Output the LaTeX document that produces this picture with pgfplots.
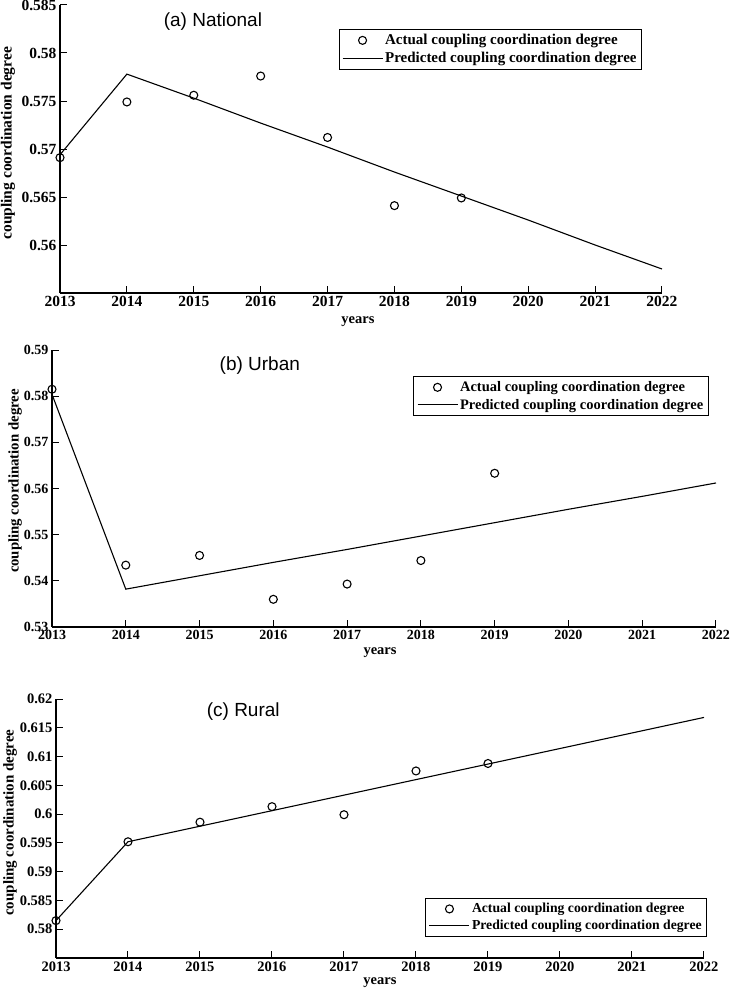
\documentclass[border=0pt]{standalone}
\usepackage{fontspec}
\setmainfont{Liberation Serif}
\newfontfamily\arial{Liberation Sans}
\usepackage{pgfplots}
\pgfplotsset{compat=1.18}

\pgfplotsset{
  ccd/.style={
    scale only axis,
    anchor=south west,
    axis x line*=bottom,
    axis y line*=left,
    axis line style={line width=1.5pt,-},
    tick style={line width=1pt,black},
    major tick length=7pt,
    tick align=inside,
    xmin=2013, xmax=2022,
    xtick={2013,...,2022},
    /pgf/number format/1000 sep={},
    /pgf/number format/assume math mode=true,
    xlabel={years},
    ylabel={coupling coordination degree},
    clip=false,
    legend cell align=left,
    legend image code/.code={\draw[mark repeat=2,mark phase=2,#1] plot coordinates {(0pt,0pt) (20pt,0pt) (40pt,0pt)};},
    legend style={draw=black, line width=1pt, anchor=north east, inner xsep=3pt, inner ysep=3pt, row sep=2pt},
  },
  actual/.style={only marks, mark=o, mark size=4pt, black, line width=1.1pt},
  pred/.style={no marks, black, line width=1.1pt},
}

\begin{document}
\begin{tikzpicture}
\path[use as bounding box] (0pt,0pt) rectangle (730pt,-992pt);

% (a) National
\begin{axis}[ccd,
  at={(60pt,-293pt)}, width=602pt, height=288pt,
  ymin=0.555, ymax=0.585,
  ytick={0.56,0.565,0.57,0.575,0.58,0.585},
  yticklabels={0.56,0.565,0.57,0.575,0.58,0.585},
  ticklabel style={font=\bfseries\fontsize{15.5}{15.5}\selectfont},
  ylabel style={font=\bfseries\fontsize{15.5}{15.5}\selectfont, at={(axis description cs:-0.0864,0.52)}, anchor=center},
  xlabel style={font=\bfseries\fontsize{14.5}{14.5}\selectfont, at={(axis description cs:0.495,-0.1)}, anchor=center},
  title={(a) National},
  title style={font=\arial\fontsize{19}{19}\selectfont, at={(axis description cs:0.254,0.92)}, anchor=center},
  legend style={at={(axis description cs:0.967,0.917)}, font=\bfseries\fontsize{15}{16}\selectfont},
]
\addplot[actual] coordinates {(2013,0.5691) (2014,0.5749) (2015,0.5756) (2016,0.5776) (2017,0.5712) (2018,0.5641) (2019,0.5649)};
\addplot[pred] coordinates {(2013,0.5694) (2014,0.5778) (2015,0.5753) (2016,0.5727) (2017,0.5702) (2018,0.5676) (2019,0.5651) (2020,0.5626) (2021,0.5600) (2022,0.5575)};
\legend{Actual coupling coordination degree, Predicted coupling coordination degree}
\end{axis}

% (b) Urban
\begin{axis}[ccd,
  at={(52pt,-627pt)}, width=664pt, height=277pt,
  ymin=0.53, ymax=0.59,
  ytick={0.53,0.54,0.55,0.56,0.57,0.58,0.59},
  yticklabels={0.53,0.54,0.55,0.56,0.57,0.58,0.59},
  ticklabel style={font=\bfseries\fontsize{14}{14}\selectfont},
  ylabel style={font=\bfseries\fontsize{14.8}{14.8}\selectfont, at={(axis description cs:-0.0557,0.527)}, anchor=center},
  xlabel style={font=\bfseries\fontsize{14.5}{14.5}\selectfont, at={(axis description cs:0.494,-0.094)}, anchor=center},
  title={(b) Urban},
  title style={font=\arial\fontsize{19}{19}\selectfont, at={(axis description cs:0.313,0.921)}, anchor=center},
  legend style={at={(axis description cs:0.989,0.906)}, font=\bfseries\fontsize{14.5}{15.5}\selectfont},
]
\addplot[actual] coordinates {(2013,0.5815) (2014,0.5434) (2015,0.5455) (2016,0.5360) (2017,0.5393) (2018,0.5444) (2019,0.5633)};
\addplot[pred] coordinates {(2013,0.5804) (2014,0.5382) (2015,0.5411) (2016,0.5440) (2017,0.5468) (2018,0.5497) (2019,0.5526) (2020,0.5555) (2021,0.5583) (2022,0.5612)};
\legend{Actual coupling coordination degree, Predicted coupling coordination degree}
\end{axis}

% (c) Rural
\begin{axis}[ccd,
  at={(56pt,-958pt)}, width=648pt, height=259pt,
  ymin=0.575, ymax=0.62,
  ytick={0.58,0.585,0.59,0.595,0.6,0.605,0.61,0.615,0.62},
  yticklabels={0.58,0.585,0.59,0.595,0.6,0.605,0.61,0.615,0.62},
  ticklabel style={font=\bfseries\fontsize{14.5}{14.5}\selectfont},
  ylabel style={font=\bfseries\fontsize{15}{15}\selectfont, at={(axis description cs:-0.071,0.523)}, anchor=center},
  xlabel style={font=\bfseries\fontsize{14.5}{14.5}\selectfont, at={(axis description cs:0.5,-0.0965)}, anchor=center},
  title={(c) Rural},
  title style={font=\arial\fontsize{19}{19}\selectfont, at={(axis description cs:0.289,0.93)}, anchor=center},
  legend style={at={(axis description cs:1.005,0.232)}, font=\bfseries\fontsize{13.7}{14.7}\selectfont},
]
\addplot[actual] coordinates {(2013,0.5815) (2014,0.5952) (2015,0.5986) (2016,0.6013) (2017,0.5999) (2018,0.6075) (2019,0.6088)};
\addplot[pred] coordinates {(2013,0.5815) (2014,0.5952) (2015,0.5979) (2016,0.6006) (2017,0.6033) (2018,0.6060) (2019,0.6087) (2020,0.6114) (2021,0.6141) (2022,0.6168)};
\legend{Actual coupling coordination degree, Predicted coupling coordination degree}
\end{axis}
\end{tikzpicture}
\end{document}
